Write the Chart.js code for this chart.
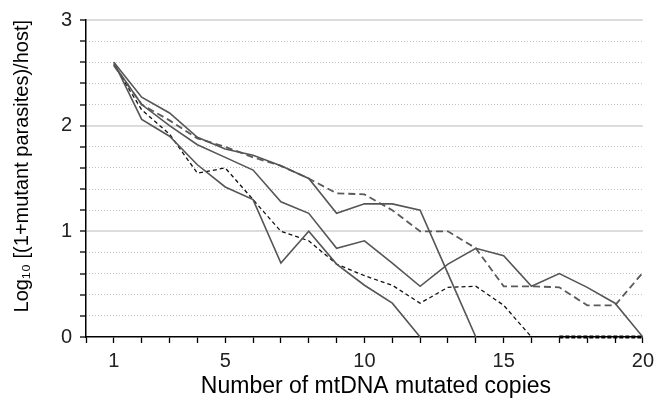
<!DOCTYPE html>
<html>
<head>
<meta charset="utf-8">
<script src="https://cdn.jsdelivr.net/npm/chart.js@4"></script>
<style>
  body { margin: 0; background: #fff; }
  #wrap { width: 660px; height: 404px; }
</style>
</head>
<body>
<div id="wrap"><canvas id="grafica" width="660" height="404"></canvas></div>
<script>
// datos
const copies = [1,2,3,4,5,6,7,8,9,10,11,12,13,14,15,16,17,18,19,20];
const solidTop = [2.6,2.27,2.12,1.89,1.78,1.72,1.62,1.5,1.17,1.26,1.26,1.2,0.6,0,null,null,null,null,null,null];
const solidMid = [2.58,2.2,2.0,1.82,1.7,1.58,1.28,1.17,0.84,0.91,0.7,0.48,0.69,0.84,0.77,0.48,0.6,0.47,0.32,0];
const solidLow = [2.6,2.06,1.9,1.63,1.42,1.3,0.7,1.0,0.69,0.49,0.32,0,null,null,null,null,null,null,null,null];
const dashTop = [2.57,2.2,2.05,1.88,1.8,1.7,1.62,1.5,1.36,1.35,1.2,1.0,1.0,0.84,0.48,0.48,0.47,0.3,0.3,0.61];
const dashLow = [2.58,2.15,1.92,1.55,1.6,1.3,1.0,0.91,0.69,0.58,0.49,0.32,0.47,0.48,0.3,0,null,null,null,null];
const dashZero = [null,null,null,null,null,null,null,null,null,null,null,null,null,null,null,null,0,0,0,0];

const xTickLabels = [1,5,10,15,20];
const yTickLabels = [0,1,2,3];

const esEntero = v => Math.abs(v - Math.round(v)) < 1e-6;

function linea(data, color, width, dash) {
    return {
        data: data,
        borderColor: color,
        borderWidth: width,
        borderDash: dash,
        pointRadius: 0,
        tension: 0,
        fill: false,
        spanGaps: false
    };
}

const ctx = document.getElementById('grafica').getContext('2d');

const base = linea(dashZero, '#000', 3, [4, 2]);
base.clip = false;

new Chart(ctx, {
    type: 'line',
    data: {
        labels: copies,
        datasets: [
            linea(solidTop, '#555', 1.6, []),
            linea(solidMid, '#555', 1.6, []),
            linea(solidLow, '#555', 1.6, []),
            linea(dashTop, '#5a5a5a', 1.8, [7, 4]),
            linea(dashLow, '#111', 1.3, [4, 3]),
            base
        ]
    },
    options: {
        responsive: false,
        animation: false,
        layout: { padding: { top: 17, right: 13, left: 0, bottom: 0 } },
        plugins: { legend: { display: false }, tooltip: { enabled: false } },
        scales: {
            x: {
                type: 'linear',
                min: 0,
                max: 20,
                afterFit: s => { s.height = 67; },
                ticks: {
                    stepSize: 1,
                    autoSkip: false,
                    maxRotation: 0,
                    padding: 6,
                    color: '#222',
                    font: { family: 'Arial, "Liberation Sans"', size: 20 },
                    callback: v => xTickLabels.includes(v) ? String(v) : ''
                },
                grid: { drawOnChartArea: false, tickLength: 6, tickColor: '#000', tickWidth: 1.3 },
                border: { color: '#000', width: 1.5 },
                title: {
                    display: true,
                    text: '\u2003Number of mtDNA mutated copies',
                    color: '#000',
                    font: { family: 'Arial, "Liberation Sans"', size: 23 },
                    padding: { top: 0, bottom: 4 }
                }
            },
            y: {
                min: 0,
                max: 3,
                afterFit: s => { s.width = 86; },
                ticks: {
                    stepSize: 0.2,
                    maxTicksLimit: 50,
                    autoSkip: false,
                    padding: 8,
                    color: '#222',
                    font: { family: 'Arial, "Liberation Sans"', size: 20 },
                    callback: v => yTickLabels.some(t => Math.abs(t - v) < 1e-6) ? String(Math.round(v)) : ''
                },
                grid: {
                    color: c => (c.tick && esEntero(c.tick.value) && c.tick.value > 0) ? '#dcdcdc' : 'rgba(0,0,0,0)',
                    lineWidth: 2,
                    tickLength: 6,
                    tickColor: '#000',
                    tickWidth: 1.3
                },
                border: { color: '#000', width: 1.5 },
                title: {
                    display: true,
                    text: 'Log\u2081\u2080 [(1+mutant parasites)/host]',
                    align: 'end',
                    color: '#000',
                    font: { family: 'Arial, "Liberation Sans"', size: 20 },
                    padding: { top: 10 }
                }
            },
            y2: {
                position: 'right',
                min: 0,
                max: 3,
                afterFit: s => { s.width = 0; },
                ticks: { display: false, stepSize: 0.2, maxTicksLimit: 50 },
                grid: {
                    color: c => (c.tick && !esEntero(c.tick.value)) ? '#c4c4c4' : 'rgba(0,0,0,0)',
                    lineWidth: 1,
                    drawTicks: false
                },
                border: { display: false, dash: [1, 2] }
            }
        }
    }
});
</script>
</body>
</html>
